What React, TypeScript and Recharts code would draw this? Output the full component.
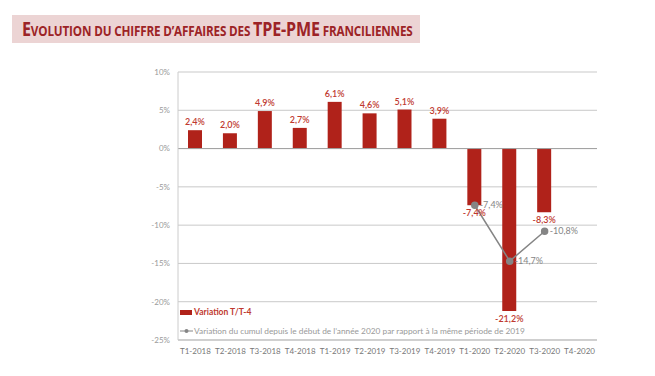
import { ComposedChart, Bar, Line, XAxis, YAxis, CartesianGrid, ReferenceLine, LabelList } from 'recharts';

const quarters = ['T1-2018', 'T2-2018', 'T3-2018', 'T4-2018', 'T1-2019', 'T2-2019', 'T3-2019', 'T4-2019', 'T1-2020', 'T2-2020', 'T3-2020', 'T4-2020'];
const variationTT4 = [2.4, 2.0, 4.9, 2.7, 6.1, 4.6, 5.1, 3.9, -7.4, -21.2, -8.3, null];
const variationCumul = [null, null, null, null, null, null, null, null, -7.4, -14.7, -10.8, null];
const yTicks = [-25, -20, -15, -10, -5, 0, 5, 10];

const RED = '#b0221a';
const RED_TXT = '#c0392f';
const GREY = '#858585';
const FONT = 'Lato, "Open Sans", sans-serif';

const data = quarters.map((q, i) => ({ q, tt4: variationTT4[i], cumul: variationCumul[i] }));

const fmt = (v: number) => `${v.toFixed(1).replace('.', ',')}%`;

const BarLabel = (p: any) => {
  const { x, y, width, height, value } = p;
  if (value == null) return null;
  const top = Math.min(y, y + height);
  const bottom = Math.max(y, y + height);
  const ty = value >= 0 ? top - 5 : bottom + 11;
  return (
    <text x={x + width / 2} y={ty} textAnchor="middle" fontSize={9} fontWeight={600} fill={RED_TXT} fontFamily={FONT}>
      {fmt(value)}
    </text>
  );
};

const LineLabel = (p: any) => {
  const { x, y, value } = p;
  if (value == null) return null;
  return (
    <text x={x + 5} y={y + 3} fontSize={9} fill={GREY} fontFamily={FONT}>
      {fmt(value)}
    </text>
  );
};

const big = { fontSize: 20 };
const small = { fontSize: 14.5 };

export default function App() {
  return (
    <div style={{ position: 'absolute', left: 0, top: 0, width: 655, height: 376, background: '#fff', fontFamily: FONT }}>
      <div style={{
        position: 'absolute', left: 12, top: 15, width: 408, height: 28, background: '#ecd4d4',
        color: '#9c2326', fontFamily: '"Open Sans", sans-serif', fontWeight: 700,
        lineHeight: '28px', paddingLeft: 10, boxSizing: 'border-box', whiteSpace: 'nowrap', overflow: 'hidden',
      }}>
        <span style={{ display: 'inline-block', transform: 'scaleX(0.805)', transformOrigin: 'left center', letterSpacing: -0.2 }}>
          <span style={big}>E</span><span style={small}>VOLUTION DU CHIFFRE D’AFFAIRES DES </span>
          <span style={big}>TPE-PME</span><span style={small}> FRANCILIENNES</span>
        </span>
      </div>
      <ComposedChart width={655} height={376} data={data} margin={{ left: 140, right: 58, top: 72, bottom: 16 }}>
        <CartesianGrid vertical={false} stroke="#c9c9c9" />
        <XAxis dataKey="q" tick={{ fontSize: 8, fill: '#777', fontFamily: FONT }} tickLine={false} axisLine={{ stroke: '#bbb' }} height={20} interval={0} />
        <YAxis domain={[-25, 10]} ticks={yTicks} tickFormatter={(v: number) => `${v}%`} tick={{ fontSize: 8, fill: '#9a9a9a', fontFamily: FONT }} tickLine={false} axisLine={{ stroke: '#ccc' }} width={38} />
        <ReferenceLine y={0} stroke="#a0a0a0" />
        <Bar dataKey="tt4" fill={RED} barSize={14} isAnimationActive={false}>
          <LabelList dataKey="tt4" content={BarLabel} />
        </Bar>
        <Line dataKey="cumul" stroke={GREY} strokeWidth={1.5} dot={{ r: 3, fill: GREY, stroke: GREY }} isAnimationActive={false} connectNulls={false}>
          <LabelList dataKey="cumul" content={LineLabel} />
        </Line>
      </ComposedChart>
      <div style={{ position: 'absolute', left: 180, top: 307, fontSize: 8.5, fontWeight: 700, color: RED_TXT, display: 'flex', alignItems: 'center' }}>
        <span style={{ display: 'inline-block', width: 12, height: 5, background: RED, marginRight: 2 }} />
        Variation T/T-4
      </div>
      <div style={{ position: 'absolute', left: 180, top: 326, fontSize: 8.3, color: '#999', display: 'flex', alignItems: 'center', whiteSpace: 'nowrap' }}>
        <svg width={13} height={6} style={{ marginRight: 1 }}>
          <line x1={0} y1={3} x2={13} y2={3} stroke={GREY} strokeWidth={1} />
          <circle cx={6.5} cy={3} r={2} fill={GREY} />
        </svg>
        Variation du cumul depuis le début de l’année 2020 par rapport à la même période de 2019
      </div>
    </div>
  );
}
